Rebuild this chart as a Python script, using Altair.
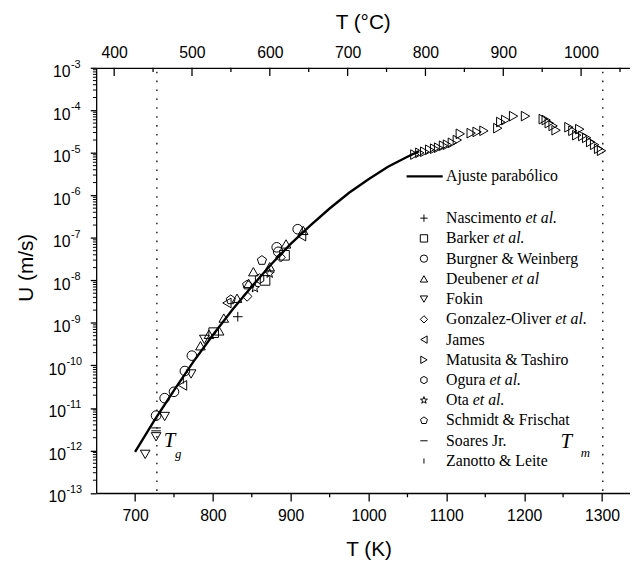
import altair as alt
import pandas as pd

# ---------------- data ----------------
fit_T = [700, 725, 750, 775, 800, 825, 850, 875, 900, 925, 950, 975, 1000, 1025, 1050, 1065]
fit_U = [9.3e-13, 5.2e-12, 2.6e-11, 1.23e-10, 5.2e-10, 2.04e-9, 7.2e-9, 2.4e-8, 7.2e-8,
         1.95e-7, 4.9e-7, 1.15e-6, 2.4e-6, 4.7e-6, 8.1e-6, 1.1e-5]

nascimento_T = [832]
nascimento_U = [1.4e-9]
barker_T = [801, 867, 892]
barker_U = [5.9e-10, 1.0e-8, 3.9e-8]
burgner_T = [727, 738, 750, 764, 773, 882, 884, 909]
burgner_U = [6.6e-12, 1.7e-11, 2.4e-11, 7.4e-11, 1.7e-10, 6.0e-8, 4.7e-8, 1.6e-7]
deubener_T = [784, 795, 808, 814, 831, 846, 852, 873, 894, 916]
deubener_U = [2.9e-10, 5.4e-10, 6.5e-10, 1.3e-9, 3.8e-9, 8.5e-9, 1.6e-8, 2.1e-8, 7.2e-8, 1.5e-7]
fokin_T = [713, 727, 738, 772, 789]
fokin_U = [8.1e-13, 2.1e-12, 6.3e-12, 6.3e-11, 4.1e-10]
gonzalez_T = [844, 887]
gonzalez_U = [4.2e-9, 3.5e-8]
james_T = [761, 818, 914]
james_U = [3.4e-11, 2.95e-9, 1.1e-7]
matusita_T = [1059.5, 1065.9, 1072.2, 1078.6, 1084.9, 1090.0, 1096.3, 1101.4, 1107.7, 1114.1,
              1117.9, 1131.9, 1139.5, 1148.3, 1166.1, 1169.9, 1176.3, 1186.4, 1201.7, 1224.5,
              1228.3, 1232.2, 1237.2, 1241.0, 1257.5, 1262.6, 1267.6, 1271.4, 1275.3, 1280.3,
              1285.4, 1290.5, 1295.6, 1299.4]
matusita_U = [9.1e-6, 1.0e-5, 1.06e-5, 1.18e-5, 1.25e-5, 1.32e-5, 1.47e-5, 1.55e-5, 1.72e-5, 2.0e-5,
              2.8e-5, 2.9e-5, 3.1e-5, 3.3e-5, 3.8e-5, 5.3e-5, 5.9e-5, 7.3e-5, 7.3e-5, 6.2e-5,
              5.9e-5, 5.0e-5, 4.3e-5, 3.4e-5, 4.0e-5, 3.3e-5, 2.6e-5, 3.6e-5, 2.5e-5, 2.25e-5,
              1.8e-5, 1.55e-5, 1.25e-5, 1.12e-5]
ogura_T = [860]
ogura_U = [1.1e-8]
ota_T = [854, 873]
ota_U = [6.6e-9, 1.45e-8]
schmidt_T = [823, 844, 863]
schmidt_U = [3.5e-9, 7.8e-9, 2.95e-8]
soares_T = [727, 727]
soares_U = [3.4e-12, 2.9e-12]
zanotto_T = [762]
zanotto_U = [4.5e-11]

series_names = ["Nascimento", "Barker", "Burgner", "Deubener", "Fokin", "Gonzalez", "James",
                "Matusita", "Ogura", "Ota", "Schmidt", "Soares", "Zanotto"]
series_T = [nascimento_T, barker_T, burgner_T, deubener_T, fokin_T, gonzalez_T, james_T,
            matusita_T, ogura_T, ota_T, schmidt_T, soares_T, zanotto_T]
series_U = [nascimento_U, barker_U, burgner_U, deubener_U, fokin_U, gonzalez_U, james_U,
            matusita_U, ogura_U, ota_U, schmidt_U, soares_U, zanotto_U]

legend_normal = ["Nascimento ", "Barker ", "Burgner & Weinberg", "Deubener ", "Fokin",
                 "Gonzalez-Oliver ", "James", "Matusita & Tashiro", "Ogura ", "Ota ",
                 "Schmidt & Frischat", "Soares Jr.", "Zanotto & Leite"]
legend_italic = ["et al.", "et al.", "", "et al", "", "et al.", "", "", "et al.", "et al.", "", "", ""]

x_ticks_K = [700, 800, 900, 1000, 1100, 1200, 1300]
x_minor_K = [750, 850, 950, 1050, 1150, 1250]
x_ticks_C = [400, 500, 600, 700, 800, 900, 1000]
x_minor_C = [450, 550, 650, 750, 850, 950, 1050]
y_exponents = [-13, -12, -11, -10, -9, -8, -7, -6, -5, -4, -3]

Tg, Tm = 728, 1301

# ---------------- styles / layout ----------------
W, H = 540.7, 430.7
K_DOM = [650, 1336]
C_DOM = [650 - 273.15, 1336 - 273.15]
U_DOM = [1e-13, 1e-3]

PLUS = "M-1,0L1,0M0,-1L0,1"
DASH = "M-1,0L1,0"
VBAR = "M0,-0.7L0,0.7"
HEX = "M0,-1L0.866,-0.5L0.866,0.5L0,1L-0.866,0.5L-0.866,-0.5Z"
PENT = "M0,-1L0.951,-0.309L0.588,0.809L-0.588,0.809L-0.951,-0.309Z"
STAR = ("M0,-1L0.235,-0.324L0.951,-0.309L0.380,0.124L0.588,0.809L0,0.4L-0.588,0.809"
        "L-0.380,0.124L-0.951,-0.309L-0.235,-0.324Z")
shapes = [PLUS, "square", "circle", "triangle-up", "triangle-down", "diamond", "triangle-left",
          "triangle-right", HEX, STAR, PENT, DASH, VBAR]
shape_scale = alt.Scale(domain=series_names, range=shapes)

SANS = "Liberation Sans"
SERIF = "Liberation Serif"
ax_common = dict(domainColor="black", domainWidth=1.3, tickColor="black", tickWidth=1.3,
                 labelColor="black", titleColor="black", grid=False, labelFont=SANS,
                 titleFont=SANS, titleFontWeight="normal", labelFontSize=16, titleFontSize=21)


def kx(axis=None):
    return alt.X("T:Q", scale=alt.Scale(domain=K_DOM, nice=False, zero=False), axis=axis)


def uy(axis=None):
    return alt.Y("U:Q", scale=alt.Scale(type="log", domain=U_DOM, nice=False), axis=axis)


# ---------------- frames ----------------
rows = []
for name, Ts, Us in zip(series_names, series_T, series_U):
    for t, u in zip(Ts, Us):
        rows.append({"series": name, "T": t, "U": u})
df_pts = pd.DataFrame(rows)
df_fit = pd.DataFrame({"T": fit_T, "U": fit_U})

TIMES = {' ': 250, 'N': 722, 'a': 444, 's': 389, 'c': 444, 'i': 278, 'm': 778, 'e': 444, 'n': 500,
         't': 278, 'o': 500, 'B': 667, 'r': 333, 'k': 500, 'D': 722, 'u': 500, 'b': 500, 'G': 722,
         'z': 444, 'l': 278, '-': 333, 'O': 722, 'v': 500, 'g': 500}
LEG_FS = 16
LEG_X_SYM, LEG_X_TXT, LEG_Y0, LEG_DY = 332, 354.4, 152.3, 20.5
df_leg = pd.DataFrame({
    "series": series_names,
    "norm": legend_normal,
    "ital": legend_italic,
    "y": [LEG_Y0 + LEG_DY * i for i in range(len(series_names))],
    "xi": [LEG_X_TXT + sum(TIMES.get(ch, 500) for ch in s) / 1000 * LEG_FS for s in legend_normal],
})
df_leg_it = df_leg[df_leg["ital"] != ""]

# ---------------- layers ----------------
dotted = alt.Chart(pd.DataFrame({"T": [Tg, Tm]})).mark_rule(
    color="#222", strokeWidth=1.5, strokeDash=[1.6, 7.4]
).encode(x=kx(), y=alt.value(4), y2=alt.value(H))

fit = alt.Chart(df_fit).mark_line(color="black", strokeWidth=2.4).encode(
    x=kx(alt.Axis(orient="bottom", values=x_ticks_K, format="d", tickSize=8, labelPadding=7,
                  labelFlush=False, title="T (K)", titleX=276, titleY=57, titleBaseline="middle",
                  **ax_common)),
    y=uy(alt.Axis(orient="left", values=[10.0 ** e for e in y_exponents], labels=False,
                  tickSize=6, title="U (m/s)", titleX=-70, titleY=202, titleAngle=270,
                  titleBaseline="middle", titleAlign="center", **ax_common)),
)

points = alt.Chart(df_pts).mark_point(filled=False, color="black", strokeWidth=1, size=95, opacity=1).encode(
    x=kx(), y=uy(), shape=alt.Shape("series:N", scale=shape_scale, legend=None)
)

top_major = alt.Chart(pd.DataFrame({"C": x_ticks_C})).mark_rule(color="black", strokeWidth=1.3).encode(
    x=alt.X("C:Q", scale=alt.Scale(domain=C_DOM, nice=False, zero=False),
            axis=alt.Axis(orient="top", values=x_ticks_C, format="d", ticks=False, labelPadding=7,
                          labelFlush=False, title="T (°C)", titleX=270, titleY=-46,
                          titleBaseline="middle", **ax_common)),
    y=alt.value(0), y2=alt.value(8.3),
)
top_minor = alt.Chart(pd.DataFrame({"C": x_minor_C})).mark_rule(color="black", strokeWidth=1.3).encode(
    x=alt.X("C:Q", scale=alt.Scale(domain=C_DOM, nice=False, zero=False), axis=None),
    y=alt.value(0), y2=alt.value(4.3),
)
bot_minor = alt.Chart(pd.DataFrame({"T": x_minor_K})).mark_rule(color="black", strokeWidth=1.3).encode(
    x=kx(), y=alt.value(H), y2=alt.value(H + 4.3),
)
y_minor_vals = [k * 10.0 ** e for e in y_exponents[:-1] for k in range(2, 10)]
left_minor = alt.Chart(pd.DataFrame({"U": y_minor_vals})).mark_rule(color="black", strokeWidth=1).encode(
    y=uy(), x=alt.value(-3.3), x2=alt.value(0),
)

# y tick labels 10^n
df_e1 = pd.DataFrame({"U": [10.0 ** e for e in y_exponents if e > -10],
                      "exp": [str(e) for e in y_exponents if e > -10]})
df_e2 = pd.DataFrame({"U": [10.0 ** e for e in y_exponents if e <= -10],
                      "exp": [str(e) for e in y_exponents if e <= -10]})
ylab = []
for dfe, xr in ((df_e1, -26.0), (df_e2, -30.6)):
    ylab.append(alt.Chart(dfe).mark_text(text="10", align="right", baseline="middle", font=SANS,
                                         fontSize=16, dy=4.5, color="black").encode(
        x=alt.value(xr), y=uy()))
    ylab.append(alt.Chart(dfe).mark_text(align="left", baseline="middle", font=SANS, fontSize=11,
                                         dy=-3.1, color="black").encode(
        x=alt.value(xr + 0.5), y=uy(), text="exp:N"))

# Tg / Tm annotations
ann_big = alt.Chart(pd.DataFrame({"T": [744.4, 1254.2], "U": [1.66e-12, 1.58e-12], "lab": ["T", "T"]})).mark_text(
    font=SERIF, fontStyle="italic", fontSize=21, align="center", baseline="middle", color="black"
).encode(x=kx(), y=uy(), text="lab:N")
ann_sub = alt.Chart(pd.DataFrame({"T": [755.5, 1278.7], "U": [8.2e-13, 8.8e-13], "lab": ["g", "m"]})).mark_text(
    font=SERIF, fontStyle="italic", fontSize=13, align="center", baseline="middle", color="black"
).encode(x=kx(), y=uy(), text="lab:N")

# legend
one = pd.DataFrame({"a": [0]})
leg_line = alt.Chart(one).mark_rule(color="black", strokeWidth=2.4).encode(
    x=alt.value(314.4), x2=alt.value(351), y=alt.value(110))
leg_line_txt = alt.Chart(one).mark_text(text="Ajuste parabólico", align="left", baseline="middle",
                                        font=SERIF, fontSize=LEG_FS, color="black").encode(
    x=alt.value(LEG_X_TXT), y=alt.value(110))
leg_sym = alt.Chart(df_leg).mark_point(filled=False, color="black", strokeWidth=1, size=55, opacity=1).encode(
    x=alt.value(LEG_X_SYM), y=alt.Y("y:Q", scale=None),
    shape=alt.Shape("series:N", scale=shape_scale, legend=None))
leg_txt = alt.Chart(df_leg).mark_text(align="left", baseline="middle", font=SERIF, fontSize=LEG_FS,
                                      color="black").encode(
    x=alt.value(LEG_X_TXT), y=alt.Y("y:Q", scale=None), text="norm:N")
leg_it = alt.Chart(df_leg_it).mark_text(align="left", baseline="middle", font=SERIF, fontSize=LEG_FS,
                                        fontStyle="italic", color="black").encode(
    x=alt.X("xi:Q", scale=None), y=alt.Y("y:Q", scale=None), text="ital:N")

chart = alt.layer(
    dotted, fit, points, top_major, top_minor, bot_minor, left_minor, *ylab,
    ann_big, ann_sub, leg_line, leg_line_txt, leg_sym, leg_txt, leg_it,
).resolve_scale(
    x="independent", y="independent", shape="shared"
).properties(
    width=W, height=H,
    autosize=alt.AutoSizeParams(type="none"),
    padding={"left": 89.3, "top": 57, "right": 0, "bottom": 66},
).configure_view(stroke=None)

chart.save("out.html", embed_options={"renderer": "svg", "actions": False})
